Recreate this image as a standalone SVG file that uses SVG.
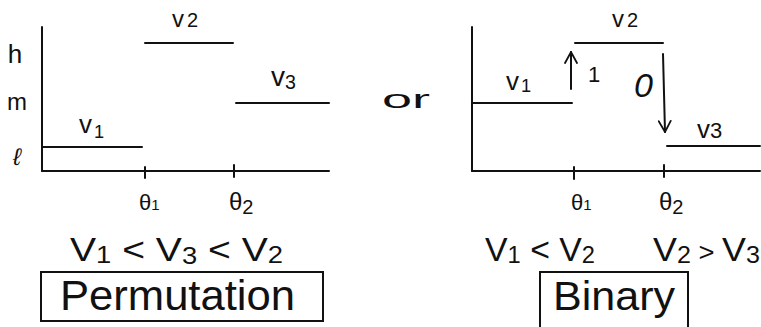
<svg xmlns="http://www.w3.org/2000/svg" width="761" height="327" viewBox="0 0 761 327">
<style>
  .ln { stroke: #111; stroke-width: 2; fill: none; stroke-linecap: round; }
  .t { font-family: "Liberation Sans", "DejaVu Sans", sans-serif; fill: #111; }
  .sub { font-size: 70%; }
</style>
<defs>
  <marker id="arr" viewBox="0 0 14 14" refX="13" refY="7" markerWidth="14" markerHeight="14" markerUnits="userSpaceOnUse" orient="auto">
    <path d="M2,1 L13,7 L2,13" fill="none" stroke="#111" stroke-width="1.8" stroke-linecap="round"/>
  </marker>
</defs>
<rect width="761" height="327" fill="#fff"/>

<g id="left-plot">
  <g id="left-axes">
    <line class="ln" x1="42" y1="27" x2="42" y2="171"/>
    <line class="ln" x1="42" y1="171" x2="329" y2="171"/>
    <line class="ln" x1="145" y1="167" x2="145" y2="178"/>
    <line class="ln" x1="234" y1="165" x2="234" y2="177"/>
  </g>
  <text class="t" x="15" y="63" font-size="26" text-anchor="middle">h</text>
  <text class="t" x="17" y="110" font-size="24" text-anchor="middle">m</text>
  <text class="t" x="17" y="165" font-size="24" text-anchor="middle" font-style="italic">ℓ</text>
  <g id="l-v1"><line class="ln" x1="43" y1="147" x2="142" y2="147"/><text class="t" x="79" y="133" font-size="26">v<tspan class="sub" dx="2" dy="5">1</tspan></text></g>
  <g id="l-v2"><line class="ln" x1="145" y1="43" x2="233" y2="43"/><text class="t" x="172" y="27" font-size="24">v<tspan dx="3" font-size="20">2</tspan></text></g>
  <g id="l-v3"><line class="ln" x1="236" y1="103" x2="329" y2="103"/><text class="t" x="271" y="86" font-size="28">v<tspan class="sub" dy="3">3</tspan></text></g>
  <text class="t" x="139" y="210" font-size="22">θ<tspan font-size="15">1</tspan></text>
  <text class="t" x="229" y="210" font-size="24">θ<tspan font-size="20" dy="4">2</tspan></text>
  <text class="t" x="70" y="261" font-size="34" textLength="213" lengthAdjust="spacingAndGlyphs">V<tspan class="sub" dy="2">1</tspan><tspan dy="-2"> &lt; V</tspan><tspan class="sub" dy="3">3</tspan><tspan dy="-3"> &lt; V</tspan><tspan class="sub" dy="2">2</tspan></text>
  <g id="permutation">
    <rect x="41" y="272" width="282" height="49" fill="none" stroke="#111" stroke-width="2"/>
    <text class="t" x="60" y="310" font-size="42" textLength="235" lengthAdjust="spacingAndGlyphs">Permutation</text>
  </g>
</g>

<text id="or" class="t" x="382" y="108" font-size="26" textLength="48" lengthAdjust="spacingAndGlyphs">or</text>

<g id="right-plot">
  <g id="right-axes">
    <line class="ln" x1="472" y1="27" x2="472" y2="171"/>
    <line class="ln" x1="472" y1="171" x2="760" y2="171"/>
    <line class="ln" x1="574" y1="167" x2="574" y2="179"/>
    <line class="ln" x1="664" y1="165" x2="664" y2="177"/>
  </g>
  <g id="r-v1"><line class="ln" x1="472" y1="103" x2="572" y2="103"/><text class="t" x="506" y="90" font-size="26">v<tspan class="sub" dx="2" dy="2">1</tspan></text></g>
  <g id="r-v2"><line class="ln" x1="575" y1="43" x2="663" y2="43"/><text class="t" x="612" y="27" font-size="24">v<tspan dx="3" font-size="20">2</tspan></text></g>
  <g id="r-v3"><line class="ln" x1="667" y1="146" x2="760" y2="146"/><text class="t" x="697" y="138" font-size="26">v<tspan font-size="22">3</tspan></text></g>
  <g id="connectors">
    <line class="ln" x1="571" y1="89" x2="571" y2="52" marker-end="url(#arr)"/>
    <line class="ln" x1="663" y1="54" x2="665" y2="132" marker-end="url(#arr)"/>
  </g>
  <text class="t" x="588" y="82" font-size="22">1</text>
  <text class="t" x="634" y="97" font-size="34" font-style="italic">0</text>
  <text class="t" x="571" y="210" font-size="22">θ<tspan font-size="15">1</tspan></text>
  <text class="t" x="659" y="210" font-size="24">θ<tspan font-size="20" dy="4">2</tspan></text>
  <text class="t" x="485" y="261" font-size="34" textLength="110" lengthAdjust="spacingAndGlyphs">V<tspan class="sub" dy="2">1</tspan><tspan dy="-2"> &lt; V</tspan><tspan class="sub" dy="2">2</tspan></text>
  <text class="t" x="653" y="261" font-size="34" textLength="107" lengthAdjust="spacingAndGlyphs">V<tspan class="sub" dy="2">2</tspan><tspan dy="-2" font-size="26"> &gt; </tspan><tspan>V</tspan><tspan class="sub" dy="2">3</tspan></text>
  <g id="binary">
    <rect x="540" y="272" width="148" height="60" fill="none" stroke="#111" stroke-width="2"/>
    <text class="t" x="553" y="310" font-size="40" textLength="122" lengthAdjust="spacingAndGlyphs">Binary</text>
  </g>
</g>
</svg>
